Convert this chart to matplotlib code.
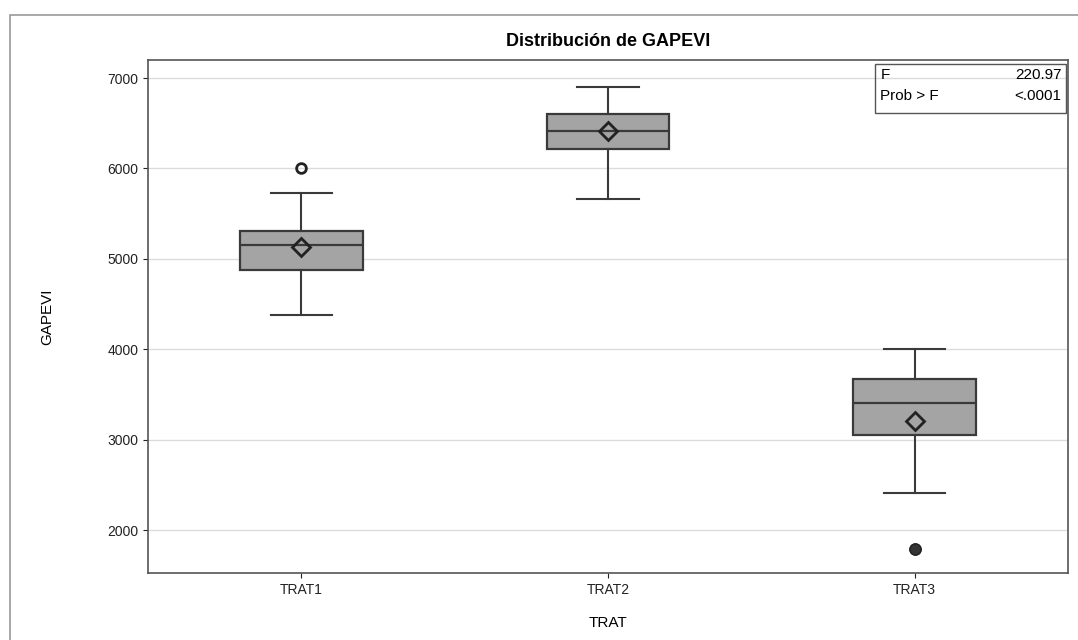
import matplotlib
matplotlib.use("Agg")
import matplotlib.pyplot as plt
from matplotlib.patches import Rectangle

plt.rcParams['font.family'] = ['Liberation Sans', 'DejaVu Sans']

# Values
groups = ['TRAT1', 'TRAT2', 'TRAT3']
whislo = [4380, 5665, 2410]
q1 = [4875, 6215, 3050]
med = [5155, 6415, 3405]
q3 = [5310, 6600, 3670]
whishi = [5730, 6900, 4000]
means = [5130, 6420, 3205]
outliers = [[6005], [], [1790, 1790]]

stats = []
for i, g in enumerate(groups):
    stats.append(dict(label=g, whislo=whislo[i], q1=q1[i], med=med[i],
                      q3=q3[i], whishi=whishi[i], mean=means[i],
                      fliers=outliers[i]))

fig = plt.figure(figsize=(10.78, 6.4), dpi=100)
ax = fig.add_axes([148 / 1078, 1 - 573 / 640, 920 / 1078, 513 / 640])

# light outer frame as in the scanned figure
fig.patches.append(Rectangle((10 / 1078, -0.01), 1.1, 1 - 15 / 640 + 0.01,
                             transform=fig.transFigure, fill=False,
                             edgecolor='#9a9a9a', linewidth=1.2))

ax.bxp(stats, positions=range(len(groups)), widths=0.4, patch_artist=True,
       showmeans=True, showfliers=True,
       boxprops=dict(facecolor='#a4a4a4', edgecolor='#3a3a3a', linewidth=1.6),
       medianprops=dict(color='#3a3a3a', linewidth=1.6),
       whiskerprops=dict(color='#3a3a3a', linewidth=1.5),
       capprops=dict(color='#3a3a3a', linewidth=1.5),
       meanprops=dict(marker='D', markerfacecolor='none', markeredgecolor='#222222',
                      markeredgewidth=2, markersize=9),
       flierprops=dict(marker='o', markerfacecolor='none', markeredgecolor='#222222',
                       markeredgewidth=2, markersize=7))

# the TRAT3 outliers overlap and print as a dark filled dot
ax.plot([2], [outliers[2][0]], marker='o', markersize=6, color='#333333',
        linestyle='none')

ax.set_xlim(-0.5, 2.5)
ax.set_ylim(1525, 7200)
ax.set_yticks([2000, 3000, 4000, 5000, 6000, 7000])
ax.yaxis.grid(True, color='#dcdcdc', linewidth=1)
ax.set_axisbelow(True)
for s in ax.spines.values():
    s.set_color('#555555')
    s.set_linewidth(1.2)
ax.tick_params(labelsize=10, colors='#222222')

ax.set_title('Distribución de GAPEVI', fontsize=13, fontweight='bold', pad=10)
ax.set_xlabel('TRAT', fontsize=11, labelpad=14)
ax.set_ylabel('GAPEVI', fontsize=11, labelpad=38)

# statistics inset
ax.text(0.796, 0.985, 'F\nProb > F', transform=ax.transAxes, va='top', ha='left',
        fontsize=11, linespacing=1.65)
ax.text(0.993, 0.985, '220.97\n<.0001', transform=ax.transAxes, va='top', ha='right',
        fontsize=11, linespacing=1.65)
ax.add_patch(Rectangle((0.79, 0.897), 0.208, 0.096, transform=ax.transAxes,
                       fill=False, edgecolor='#555555', linewidth=1))

fig.savefig('out.png', dpi=100)
